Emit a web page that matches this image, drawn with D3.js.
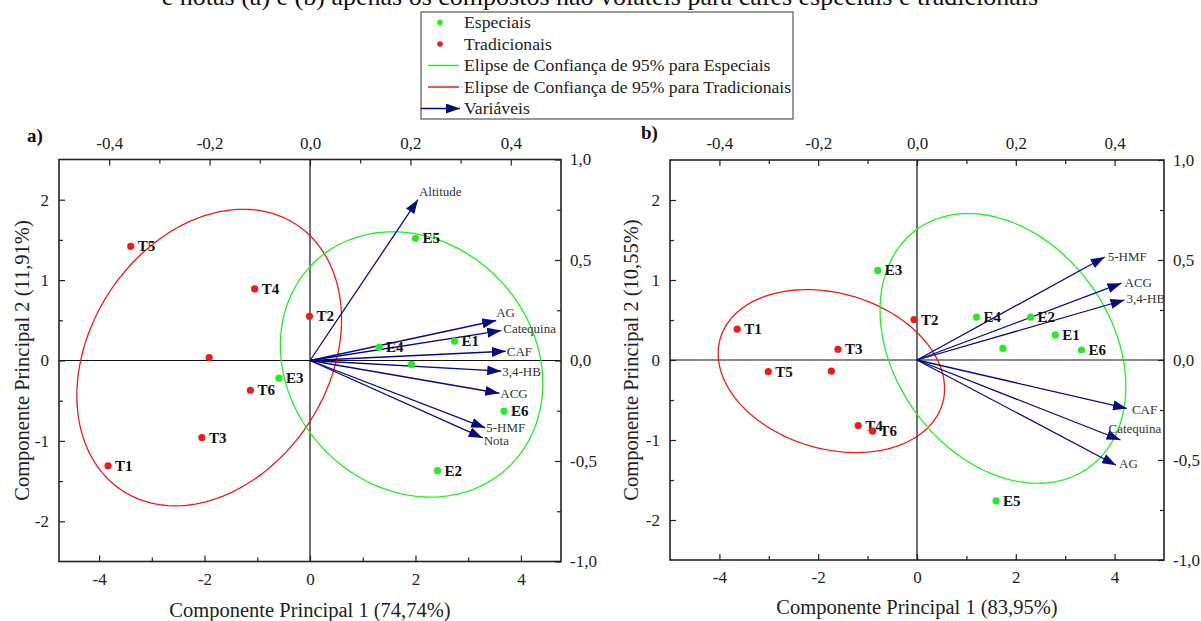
<!DOCTYPE html>
<html><head><meta charset="utf-8">
<script src="https://cdn.jsdelivr.net/npm/d3@7"></script>
<style>
html,body{margin:0;padding:0;background:#fff;}
svg{display:block;}
svg text{font-family:"Liberation Serif","Times New Roman",serif !important;}
</style></head>
<body>
<svg id="chart" width="1201" height="621"></svg>
<script>
// ---------------- DATA ----------------
// Panel a) scores (PC1, PC2)
const aSampleNames = ["T1","T2","T3","T4","T5","T6","E1","E2","E3","E4","E5","E6"];
const aPC1 = [-3.83,-0.01,-2.05,-1.05,-3.40,-1.13, 2.74,2.42,-0.59,1.31,2.00,3.68];
const aPC2 = [-1.31, 0.55,-0.96, 0.89, 1.42,-0.37, 0.24,-1.37,-0.22,0.165,1.52,-0.63];
// Panel a) loadings
const aVarNames = ["Altitude","AG","Catequina","CAF","3,4-HB","ACG","5-HMF","Nota"];
const aLoad1 = [0.215,0.371,0.381,0.390,0.381,0.377,0.349,0.344];
const aLoad2 = [0.800,0.199,0.149,0.046,-0.053,-0.163,-0.335,-0.385];

// Panel b) scores
const bSampleNames = ["T1","T2","T3","T4","T5","T6","E1","E2","E3","E4","E5","E6"];
const bPC1 = [-3.64,-0.06,-1.60,-1.19,-3.01,-0.90, 2.80,2.30,-0.795,1.205,1.60,3.33];
const bPC2 = [ 0.385,0.505,0.134,-0.82,-0.146,-0.89, 0.313,0.535,1.12,0.535,-1.76,0.125];
// Panel b) loadings
const bVarNames = ["5-HMF","ACG","3,4-HB","CAF","Catequina","AG"];
const bLoad1 = [0.380,0.414,0.420,0.425,0.412,0.403];
const bLoad2 = [0.515,0.384,0.300,-0.242,-0.400,-0.526];

const groupOf = n => n[0] === "E" ? "E" : "T";

// axis tick values
const pcTicksX = [-4,-2,0,2,4];
const pcTicksY = [-2,-1,0,1,2];
const loadTicksX = [-0.4,-0.2,0.0,0.2,0.4];
const loadTicksY = [-1.0,-0.5,0.0,0.5,1.0];

const legendLabels = ["Especiais","Tradicionais","Elipse de Confiança de 95% para Especiais","Elipse de Confiança de 95% para Tradicionais","Variáveis"];
const titleText = "e notas (a) e (b) apenas os compostos não voláteis para cafés especiais e tradicionais";
const F_2_4_95 = 6.9443; // F(2, n-2, 0.95) for n = 6

// ---------------- STYLE / LAYOUT ----------------
const GREEN = "#22ee22", RED = "#f01a1a", NAVY = "#0a0a80";
const fmt = d => d3.format(".1f")(d).replace(".", ",").replace("−","-");
const fmtInt = d => d3.format("d")(d).replace("−","-");

const svg = d3.select("#chart");
svg.append("rect").attr("width",1201).attr("height",621).attr("fill","#fff");
svg.append("defs").append("marker")
  .attr("id","arrow").attr("viewBox","0 0 14 10").attr("refX",14).attr("refY",5)
  .attr("markerWidth",14).attr("markerHeight",10).attr("markerUnits","userSpaceOnUse")
  .attr("orient","auto")
  .append("path").attr("d","M0,0 L14,5 L0,10 Z").attr("fill",NAVY);

svg.append("text").attr("x",600).attr("y",5).attr("text-anchor","middle")
  .attr("font-size",26).attr("fill","#111").text(titleText);

function confEllipse(xs, ys, k2) {
  const n = xs.length, mx = d3.mean(xs), my = d3.mean(ys);
  let sxx=0, syy=0, sxy=0;
  for (let i=0;i<n;i++){ const dx=xs[i]-mx, dy=ys[i]-my; sxx+=dx*dx; syy+=dy*dy; sxy+=dx*dy; }
  sxx/=(n-1); syy/=(n-1); sxy/=(n-1);
  const a=Math.sqrt(sxx), b=sxy/a, c=Math.sqrt(syy-b*b), k=Math.sqrt(k2);
  return {mx, my, pts: d3.range(0, 361, 2).map(t => { const r=t*Math.PI/180, u=Math.cos(r), v=Math.sin(r);
    return [mx + k*a*u, my + k*(b*u + c*v)]; })};
}

function panel(cfg) {
  const {x0,x1,y0,y1,xDom,names,pc1,pc2,vn,l1,l2,labOff,letter,xTitle,yTitle} = cfg;
  const g = svg.append("g");
  const x = d3.scaleLinear().domain(xDom).range([x0,x1]);
  const y = d3.scaleLinear().domain([-2.5,2.5]).range([y1,y0]);
  const xl = d3.scaleLinear().domain([-0.5,0.5]).range([x0,x1]);
  const yl = d3.scaleLinear().domain([-1,1]).range([y1,y0]);

  // zero lines
  g.append("line").attr("x1",x0).attr("x2",x1).attr("y1",y(0)).attr("y2",y(0)).attr("stroke","#111").attr("stroke-width",1.2);
  g.append("line").attr("x1",x(0)).attr("x2",x(0)).attr("y1",y0).attr("y2",y1).attr("stroke","#111").attr("stroke-width",1.2);

  // axes (ticks inward)
  const axStyle = sel => { sel.select(".domain").remove(); sel.attr("font-family",null).attr("font-size",null);
    sel.selectAll("line").attr("stroke","#222").attr("stroke-width",1.2);
    sel.selectAll("text").attr("font-size",17).attr("fill","#222"); };
  const minor = (sc, arr, axisFn, tr) => g.append("g").attr("transform",tr).call(axisFn(sc).tickValues(arr).tickSize(-4).tickFormat("")).call(axStyle);

  const minorPcX = [-3,-1,1,3], minorPcY = [-1.5,-0.5,0.5,1.5];
  const minorLX = [-0.3,-0.1,0.1,0.3], minorLY = [-0.75,-0.25,0.25,0.75];

  g.append("g").attr("transform",`translate(0,${y1})`).call(d3.axisBottom(x).tickValues(pcTicksX).tickSize(-6).tickPadding(11).tickFormat(fmtInt)).call(axStyle);
  minor(x, minorPcX, d3.axisBottom, `translate(0,${y1})`);
  g.append("g").attr("transform",`translate(${x0},0)`).call(d3.axisLeft(y).tickValues(pcTicksY).tickSize(-6).tickPadding(10).tickFormat(fmtInt)).call(axStyle);
  minor(y, minorPcY, d3.axisLeft, `translate(${x0},0)`);
  g.append("g").attr("transform",`translate(0,${y0})`).call(d3.axisTop(xl).tickValues(loadTicksX).tickSize(-6).tickPadding(11).tickFormat(fmt)).call(axStyle);
  minor(xl, minorLX, d3.axisTop, `translate(0,${y0})`);
  g.append("g").attr("transform",`translate(${x1},0)`).call(d3.axisRight(yl).tickValues(loadTicksY).tickSize(-6).tickPadding(9).tickFormat(fmt)).call(axStyle);
  minor(yl, minorLY, d3.axisRight, `translate(${x1},0)`);

  // frame
  g.append("rect").attr("x",x0).attr("y",y0).attr("width",x1-x0).attr("height",y1-y0)
    .attr("fill","none").attr("stroke","#222").attr("stroke-width",1.6);

  // ellipses (95% confidence ellipse of the group mean)
  const k2 = n => 2*(n-1)/(n*(n-2))*F_2_4_95;
  const line = d3.line().x(d=>x(d[0])).y(d=>y(d[1]));
  const cents = [];
  [["T",RED],["E",GREEN]].forEach(([grp,col]) => {
    const idx = names.map((n,i)=>i).filter(i=>groupOf(names[i])===grp);
    const xs = idx.map(i=>pc1[i]), ys = idx.map(i=>pc2[i]);
    const e = confEllipse(xs, ys, k2(xs.length));
    g.append("path").attr("d", line(e.pts)).attr("fill","none").attr("stroke",col).attr("stroke-width",1.3);
    cents.push({mx:e.mx,my:e.my,col});
  });

  // vectors
  vn.forEach((name,i) => {
    g.append("line").attr("x1",xl(0)).attr("y1",yl(0)).attr("x2",xl(l1[i])).attr("y2",yl(l2[i]))
      .attr("stroke",NAVY).attr("stroke-width",1.3).attr("marker-end","url(#arrow)");
    const o = labOff[name];
    g.append("text").attr("x",xl(l1[i])+o[0]).attr("y",yl(l2[i])+o[1]+4.5).attr("font-size",13).attr("fill","#333").text(name);
  });

  // centroids
  cents.forEach(c => g.append("circle").attr("cx",x(c.mx)).attr("cy",y(c.my)).attr("r",3.6).attr("fill",c.col));
  // points
  names.forEach((n,i) => {
    const col = groupOf(n)==="E" ? GREEN : RED;
    g.append("circle").attr("cx",x(pc1[i])).attr("cy",y(pc2[i])).attr("r",3.6).attr("fill",col);
    g.append("text").attr("x",x(pc1[i])+7).attr("y",y(pc2[i])+5).attr("font-size",15).attr("font-weight","bold").attr("fill","#111").text(n);
  });

  // titles
  g.append("text").attr("x",(x0+x1)/2).attr("y",cfg.xTitleY).attr("text-anchor","middle").attr("font-size",20.5).attr("fill","#222").text(xTitle);
  g.append("text").attr("transform",`translate(${cfg.yTitleX},${(y0+y1)/2}) rotate(-90)`).attr("text-anchor","middle").attr("font-size",20.5).attr("fill","#222").text(yTitle);
  g.append("text").attr("x",cfg.letterX).attr("y",cfg.letterY).attr("font-size",19).attr("font-weight","bold").attr("fill","#111").text(letter);
}

panel({x0:59,x1:561,y0:159.5,y1:561.5,xDom:[-4.76,4.76],
  names:aSampleNames,pc1:aPC1,pc2:aPC2,vn:aVarNames,l1:aLoad1,l2:aLoad2,
  labOff:{"Altitude":[1,-8],"AG":[0,-8],"Catequina":[2,-2],"CAF":[1,0],"3,4-HB":[1,0],"ACG":[1,0],"5-HMF":[1,0],"Nota":[1,3]},
  letter:"a)",letterX:27,letterY:142,xTitle:"Componente Principal 1 (74,74%)",xTitleY:617,
  yTitle:"Componente Principal 2 (11,91%)",yTitleX:29});

panel({x0:670,x1:1164,y0:160,y1:560,xDom:[-5,5],
  names:bSampleNames,pc1:bPC1,pc2:bPC2,vn:bVarNames,l1:bLoad1,l2:bLoad2,
  labOff:{"5-HMF":[3,-1],"ACG":[3,-1],"3,4-HB":[2,-2],"CAF":[5,1],"Catequina":[-12,-12],"AG":[3,-2]},
  letter:"b)",letterX:641,letterY:139,xTitle:"Componente Principal 1 (83,95%)",xTitleY:614,
  yTitle:"Componente Principal 2 (10,55%)",yTitleX:638});

// legend
const lg = svg.append("g");
lg.append("rect").attr("x",421).attr("y",12).attr("width",372).attr("height",107).attr("fill","#fff").attr("stroke","#555").attr("stroke-width",1.2);
legendLabels.forEach((t,i) => {
  const cy = 22.5 + i*21.5;
  if (i<2) lg.append("circle").attr("cx",440).attr("cy",cy).attr("r",2.8).attr("fill", i===0?GREEN:RED);
  else if (i<4) lg.append("line").attr("x1",428).attr("x2",459).attr("y1",cy).attr("y2",cy).attr("stroke", i===2?GREEN:RED).attr("stroke-width",1.5);
  else lg.append("line").attr("x1",421).attr("x2",460).attr("y1",cy).attr("y2",cy).attr("stroke",NAVY).attr("stroke-width",1.3).attr("marker-end","url(#arrow)");
  lg.append("text").attr("x",464).attr("y",cy+5.5).attr("font-size",17.7).attr("fill","#222").text(t);
});
</script>
</body></html>
